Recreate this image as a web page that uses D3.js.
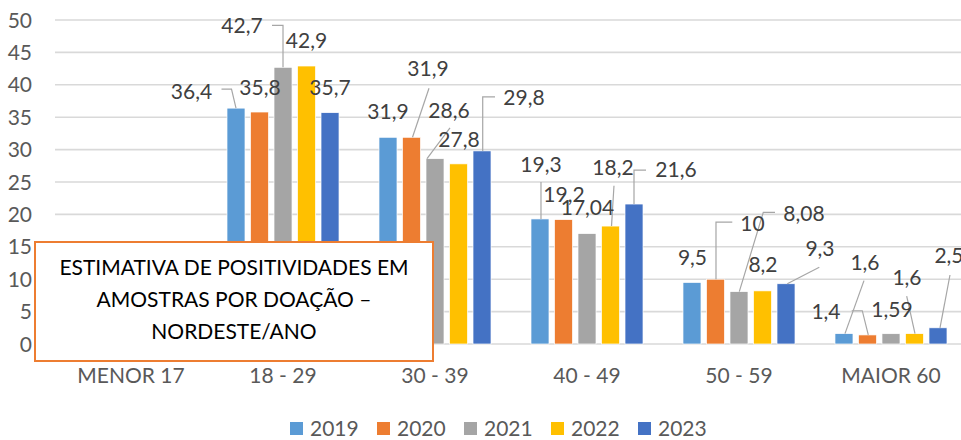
<!DOCTYPE html>
<html>
<head>
<meta charset="utf-8">
<script src="https://cdn.jsdelivr.net/npm/d3@7"></script>
<style>
  body { margin: 0; background: #fff; }
  text { font-family: Lato, 'Open Sans', sans-serif; }
</style>
</head>
<body>
<script>
var categories = ['MENOR 17', '18 - 29', '30 - 39', '40 - 49', '50 - 59', 'MAIOR 60'];
var years = ['2019', '2020', '2021', '2022', '2023'];

var v2019 = [null, 36.4, 31.9, 19.3, 9.5, 1.6];
var v2020 = [null, 35.8, 31.9, 19.2, 10, 1.4];
var v2021 = [null, 42.7, 28.6, 17.04, 8.08, 1.59];
var v2022 = [null, 42.9, 27.8, 18.2, 8.2, 1.6];
var v2023 = [null, 35.7, 29.8, 21.6, 9.3, 2.5];

var yTicks = [0, 5, 10, 15, 20, 25, 30, 35, 40, 45, 50];
var titleLines = ['ESTIMATIVA DE POSITIVIDADES EM', 'AMOSTRAS POR DOAÇÃO –', 'NORDESTE/ANO'];

var seriesValues = [v2019, v2020, v2021, v2022, v2023];
var colors = ['#5B9BD5', '#ED7D31', '#A5A5A5', '#FFC000', '#4472C4'];

// label placement (pixel offsets from bar top centre) and leader lines
var labelPos = [
  [null, [-44.5, -9, [[0, 0], [-4.5, -19], [-14.5, -19]]], [0, -18], [1, -47, [[1, 0], [1, -37]]], [0.5, -17.4], [21, -63.6, [[1, 0], [20, -53]]]],
  [null, [0.5, -17], [16.5, -61, [[1, 0], [17.5, -49]]], [0.5, -18], [37, -48.5, [[0.5, 0], [0.5, -57], [16.8, -57]]], [-41.5, -15.6, [[0.8, 0], [-5.2, -24.2], [-15.8, -24.2]]]],
  [null, [-41, -34, [[0, 0], [0, -42], [-11, -42]]], [14, -41, [[-8, 0], [15, -30.7]]], [0.5, -18.6], [65, -70.6, [[0.3, 0], [24.3, -79.3], [36, -79.3]]], [1, -17]],
  [null, [0, -18], [0.5, -17], [2.5, -51, [[1, 0], [3.5, -40.4]]], [0.5, -18.6], [-7.5, -48.6, [[0.5, 0], [-7.8, -37.6]]]],
  [null, [0, -17.7], [42, -46, [[0.7, 0], [0.7, -54], [13, -54]]], [42, -27.3, [[0, 0], [0, -34], [12, -34]]], [34, -28, [[1.3, 0], [33.3, -16.4]]], [11, -64.5, [[2, 0], [12, -52.8]]]]
];

var width = 961,
    height = 440;

var svg = d3.select('body')
  .append('svg')
  .attr('width', width)
  .attr('height', height);

var x0 = d3.scaleBand()
  .domain(categories)
  .range([55, 967])
  .paddingInner(0.263)
  .paddingOuter(0.1316);

var x1 = d3.scaleBand()
  .domain(years)
  .range([0, x0.bandwidth()])
  .paddingInner(0.234);

var y = d3.scaleLinear()
  .domain([0, 50])
  .range([344, 20]);

// gridlines
svg.append('g')
  .selectAll('line')
  .data(yTicks)
  .enter().append('line')
  .attr('x1', 55)
  .attr('x2', width)
  .attr('y1', function(d) { return y(d); })
  .attr('y2', function(d) { return y(d); })
  .attr('stroke', '#D9D9D9')
  .attr('stroke-width', 1.6);

// y tick labels
svg.append('g')
  .selectAll('text')
  .data(yTicks)
  .enter().append('text')
  .attr('x', 32)
  .attr('y', function(d) { return y(d); })
  .attr('dy', '0.36em')
  .attr('text-anchor', 'end')
  .attr('font-size', 21)
  .attr('fill', '#595959')
  .text(function(d) { return d; });

// flatten bars
var bars = [];
seriesValues.forEach(function(vals, s) {
  vals.forEach(function(v, c) {
    if (v == null) return;
    bars.push({ year: years[s], cat: categories[c], value: v, color: colors[s], pos: labelPos[s][c] });
  });
});

svg.append('g')
  .selectAll('rect')
  .data(bars)
  .enter().append('rect')
  .attr('x', function(d) { return x0(d.cat) + x1(d.year); })
  .attr('y', function(d) { return y(d.value); })
  .attr('width', x1.bandwidth())
  .attr('height', function(d) { return y(0) - y(d.value); })
  .attr('fill', function(d) { return d.color; })
  .attr('stroke', '#fff')
  .attr('stroke-width', 0.7);

function barCx(d) { return x0(d.cat) + x1(d.year) + x1.bandwidth() / 2; }

// leader lines
svg.append('g')
  .selectAll('polyline')
  .data(bars.filter(function(d) { return d.pos && d.pos[2]; }))
  .enter().append('polyline')
  .attr('points', function(d) {
    var cx = barCx(d), cy = y(d.value);
    return d.pos[2].map(function(p) { return (cx + p[0]) + ',' + (cy + p[1]); }).join(' ');
  })
  .attr('fill', 'none')
  .attr('stroke', '#A6A6A6')
  .attr('stroke-width', 1.2);

// data labels
svg.append('g')
  .selectAll('text')
  .data(bars)
  .enter().append('text')
  .attr('x', function(d) { return barCx(d) + d.pos[0]; })
  .attr('y', function(d) { return y(d.value) + d.pos[1]; })
  .attr('text-anchor', 'middle')
  .attr('font-size', 21)
  .attr('fill', '#404040')
  .text(function(d) { return String(d.value).replace('.', ','); });

// category labels
svg.append('g')
  .selectAll('text')
  .data(categories)
  .enter().append('text')
  .attr('x', function(d) { return x0(d) + x0.bandwidth() / 2; })
  .attr('y', 383)
  .attr('text-anchor', 'middle')
  .attr('font-size', 21)
  .attr('fill', '#595959')
  .text(function(d) { return d; });

// title box
var box = svg.append('g');
box.append('rect')
  .attr('x', 35)
  .attr('y', 242)
  .attr('width', 398)
  .attr('height', 119)
  .attr('fill', '#fff')
  .attr('stroke', '#ED7D31')
  .attr('stroke-width', 2);
box.selectAll('text')
  .data(titleLines)
  .enter().append('text')
  .attr('x', 234)
  .attr('y', function(d, i) { return 275 + i * 32; })
  .attr('text-anchor', 'middle')
  .attr('font-size', 21)
  .attr('fill', '#000')
  .text(function(d) { return d; });

// legend
var legend = svg.append('g')
  .selectAll('g')
  .data(years)
  .enter().append('g')
  .attr('transform', function(d, i) { return 'translate(' + (290 + i * 87) + ',422)'; });
legend.append('rect')
  .attr('width', 13)
  .attr('height', 13)
  .attr('fill', function(d, i) { return colors[i]; });
legend.append('text')
  .attr('x', 20)
  .attr('y', 6.5)
  .attr('dy', '0.36em')
  .attr('font-size', 21)
  .attr('fill', '#595959')
  .text(function(d) { return d; });
</script>
</body>
</html>
